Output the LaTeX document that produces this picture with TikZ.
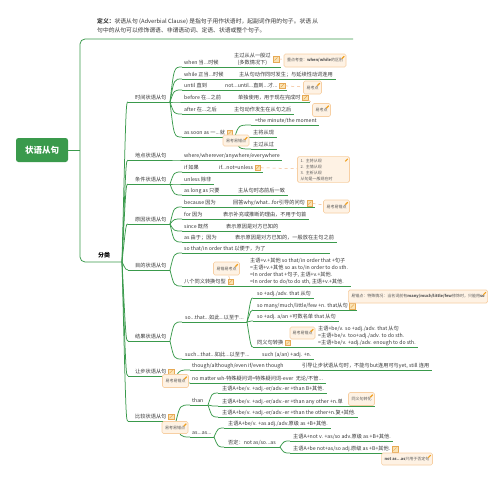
\documentclass[tikz,border=0pt]{standalone}
\usepackage{fontspec}
\setmainfont{Noto Sans CJK SC}
\usetikzlibrary{calc}
\definecolor{gr}{HTML}{3A9A4C}
\definecolor{txtc}{HTML}{383838}
\definecolor{boxf}{HTML}{FEF2E4}
\definecolor{boxb}{HTML}{F7CFA3}
\definecolor{boxt}{HTML}{5A5A5A}
\definecolor{icf}{HTML}{FBE3B4}
\definecolor{icb}{HTML}{E6A955}
\definecolor{penc}{HTML}{F0A020}
\definecolor{dsc}{HTML}{F2B888}
% text node with adaptive underline: name, xL, yu, textx, text
\newcommand\mmnd[5]{%
  \node[txt] (#1) at (#4,#3-2.3) {#5};
  \coordinate (#1-l) at (#2,#3);
  \coordinate (#1-e) at ($(#1.east)+(2.5,0)$);
  \coordinate (#1-r) at (#1-e |- #1-l);
  \draw[conn] (#1-l) -- (#1-r);}
% fixed underline: name, xL, xR, yu, textx, text
\newcommand\mmndx[6]{%
  \node[txt] (#1) at (#5,#4-2.3) {#6};
  \coordinate (#1-l) at (#2,#4);
  \coordinate (#1-r) at (#3,#4);
  \draw[conn] (#1-l) -- (#1-r);}
% with note icon
\newcommand\mmndi[5]{%
  \node[txt] (#1) at (#4,#3-2.3) {#5};
  \node[icn] (#1-i) at ($(#1.east)+(4.5,0)$) {};
  \coordinate (#1-l) at (#2,#3);
  \coordinate (#1-e) at ($(#1-i.east)+(2,0)$);
  \coordinate (#1-r) at (#1-e |- #1-l);
  \draw[conn] (#1-l) -- (#1-r);}
\newcommand\mmcv[2]{\draw[conn] let \p1=(#1), \p2=(#2) in (\p1) .. controls (\x1+4pt,\y2) .. (\p2);}
\newcommand\mmpen[1]{\draw[penc, line width=1.1pt] ($(#1.north east)+(-4.5,5)$) -- ($(#1.north east)+(-2,2.5)$);}
\begin{document}
\begin{tikzpicture}[x=1pt,y=-1pt,
  conn/.style={draw=gr, line width=0.75pt},
  txt/.style={anchor=base west, inner sep=0pt, text=txtc, font=\fontsize{5.2}{7}\selectfont},
  mtxt/.style={anchor=south west, inner sep=0pt, text=txtc, font=\fontsize{5.2}{7}\selectfont, align=left},
  callout/.style={draw=boxb, fill=boxf, rounded corners=1.5pt, line width=0.6pt, inner xsep=3pt, inner ysep=2pt, minimum height=12pt, text=boxt, font=\fontsize{4}{5.5}\selectfont},
  icn/.style={draw=icb, fill=icf, line width=0.4pt, minimum width=5.5pt, minimum height=5.5pt, inner sep=0pt,
    path picture={\draw[icb, line width=0.5pt] ([shift={(1.2pt,1.2pt)}]path picture bounding box.south west) -- ([shift={(-1.2pt,-1.2pt)}]path picture bounding box.north east);}},
  dline/.style={draw=dsc, dashed, line width=0.5pt}]
\useasboundingbox[fill=white] (0,0) rectangle (503,480);

% definition
\node[anchor=north west, inner sep=0pt, font=\fontsize{5.8}{9}\selectfont, text=txtc, align=left] (def) at (97,18.3)
  {\textbf{定义：}状语从句 (Adverbial Clause) 是指句子用作状语时，起副词作用的句子。状语 从\\句中的从句可以修饰谓语、非谓语动词、定语、状语或整个句子。};
\coordinate (def-r) at (353,39);

% root
\node[fill=gr, rounded corners=2.5pt, text=white, font=\fontsize{8.5}{10}\selectfont\bfseries, minimum width=52pt, minimum height=24pt, inner sep=0pt] (root) at (42,150) {状语从句};

% 分类
\node[anchor=base west, inner sep=0pt, font=\fontsize{6}{7}\selectfont\bfseries, text=black] (fl) at (98,257.7) {分类};
\coordinate (fl-r) at (122,262);
\coordinate (tTop) at (80,39);
\coordinate (tBot) at (80,262);
\draw[conn, rounded corners=5pt] (def-r) -- (tTop) -- (tBot) -- (fl-r);
\draw[conn] (root.east) -- (root.east -| tTop);

% categories
\mmndx{c1}{128}{170}{102}{135}{时间状语从句}
\mmndx{c2}{128}{170}{160}{135}{地点状语从句}
\mmndx{c3}{128}{170}{184}{135}{条件状语从句}
\mmndx{c4}{128}{170}{224}{135}{原因状语从句}
\mmndx{c5}{128}{170}{270}{135}{目的状语从句}
\mmndx{c6}{128}{170}{341}{135}{结果状语从句}
\mmndi{c7}{128}{376}{135}{让步状语从句}
\mmndi{c8}{128}{421}{135}{比较状语从句}
\foreach \c in {c1,c2,c3,c4,c5,c6,c7,c8}{\mmcv{fl-r}{\c-l}}

% time
\mmndx{t1}{182}{228}{67}{184}{when 当...时候}
\node[mtxt, align=center] (g1) at (234,65.6) {主过从从一般过\\(多数情况下)};
\node[icn] (g1-i) at (276,59) {};
\coordinate (g1-l) at (232,67);
\coordinate (g1-r) at (281,67);
\draw[conn] (g1-l) -- (g1-r);
\draw[conn] (t1-r) -- (g1-l);
\mmndx{t2}{182}{232}{79}{184}{while 正当...时候}
\mmnd{g2}{236}{79}{239}{主从句动作同时发生；与延续性动词连用}
\draw[conn] (t2-r) -- (g2-l);
\mmndx{t3}{182}{219}{90}{184}{until 直到}
\mmndi{g3}{223}{90}{225}{not...until...直到...才...}
\draw[conn] (t3-r) -- (g3-l);
\mmndx{t4}{182}{232}{102}{184}{before 在...之前}
\mmndi{g4}{236}{102}{238}{单独使用，用于现在完成时}
\draw[conn] (t4-r) -- (g4-l);
\mmndx{t5}{182}{228}{114}{184}{after 在...之后}
\mmnd{g5}{232}{114}{234}{主句动作发生在从句之后}
\draw[conn] (t5-r) -- (g5-l);
\mmndi{t6}{182}{137}{184}{as soon as 一...就}
\mmnd{g6a}{251}{125}{255}{=the minute/the moment}
\mmnd{g6b}{251}{137}{253}{主将从现}
\mmnd{g6c}{251}{149}{253}{主过从过}
\foreach \c in {t1,t2,t3,t4,t5,t6}{\mmcv{c1-r}{\c-l}}
\foreach \c in {g6a,g6b,g6c}{\mmcv{t6-r}{\c-l}}

% location
\mmnd{l1}{182}{160}{184}{where/wherever/anywhere/everywhere}
\mmcv{c2-r}{l1-l}

% condition
\mmndx{k1}{182}{211}{172}{184}{if 如果}
\mmndi{gk1}{215}{172}{219}{if...not=unless}
\draw[conn] (k1-r) -- (gk1-l);
\mmnd{k2}{182}{184}{184}{unless 除非}
\mmndx{k3}{182}{228}{195}{184}{as long as 只要}
\mmnd{gk3}{232}{195}{238}{主从句时态前后一致}
\draw[conn] (k3-r) -- (gk3-l);
\foreach \c in {k1,k2,k3}{\mmcv{c3-r}{\c-l}}

% reason
\mmndx{r1}{182}{224}{207}{184}{because 因为}
\mmndi{gr1}{228}{207}{233}{回答why/what...for引导的问句}
\draw[conn] (r1-r) -- (gr1-l);
\mmndx{r2}{182}{214}{219}{184}{for 因为}
\mmnd{gr2}{218}{219}{223}{表示补充或推断的理由，不用于句首}
\draw[conn] (r2-r) -- (gr2-l);
\mmndx{r3}{182}{218}{231}{184}{since 既然}
\mmnd{gr3}{222}{231}{226}{表示原因是对方已知的}
\draw[conn] (r3-r) -- (gr3-l);
\mmndx{r4}{182}{226}{242}{184}{as 由于；因为}
\mmnd{gr4}{230}{242}{235}{表示原因是对方已知的，一般放在主句之前}
\draw[conn] (r4-r) -- (gr4-l);
\foreach \c in {r1,r2,r3,r4}{\mmcv{c4-r}{\c-l}}

% purpose
\mmndx{p1}{182}{330}{253}{184}{so that/in order that 以便于，为了}
\mmndi{p2}{182}{286}{184}{八个同义转换句型}
\node[mtxt] (g52) at (250,284.6) {主语+v.+其他 so that/in order that +句子\\=主语+v.+其他 so as to/in order to do sth.\\=In order that +句子, 主语+v.+其他.\\=In order to do/to do sth, 主语+v.+其他.};
\coordinate (g52-l) at (246,286);
\coordinate (g52-e) at ($(g52.south east)+(2.5,0)$);
\coordinate (g52-r) at (g52-e |- g52-l);
\draw[conn] (g52-l) -- (g52-r);
\draw[conn] (p2-r) -- (g52-l);
\foreach \c in {p1,p2}{\mmcv{c5-r}{\c-l}}

% result
\mmndx{s1}{182}{247}{322}{185}{so...that...如此...以至于...}
\mmnd{s1a}{253}{298}{257}{so +adj./adv. that 从句}
\mmndi{s1b}{253}{310}{257}{so many/much/little/few +n. that从句}
\mmnd{s1c}{253}{321}{257}{so +adj. a/an +可数名单 that 从句}
\mmndi{s1d}{253}{347}{257}{同义句转换}
\node[mtxt] (g6d) at (318,345.6) {主语+be/v. so +adj./adv. that 从句\\=主语+be/v. too+adj./adv. to do sth.\\=主语+be/v. +adj./adv. enough to do sth.};
\coordinate (g6d-l) at (296,347);
\coordinate (g6d-e) at ($(g6d.south east)+(2.5,0)$);
\coordinate (g6d-r) at (g6d-e |- g6d-l);
\draw[conn] (g6d-l) -- (g6d-r);
\draw[conn] (s1d-r) -- (g6d-l);
\foreach \c in {s1a,s1b,s1c,s1d}{\mmcv{s1-r}{\c-l}}
\mmndx{s2}{182}{252}{359}{185}{such...that...如此...以至于...}
\mmnd{gs2}{256}{359}{262}{such (a/an) +adj. +n.}
\draw[conn] (s2-r) -- (gs2-l);
\foreach \c in {s1,s2}{\mmcv{c6-r}{\c-l}}

% concession
\mmndx{v1}{190}{292}{370}{192}{though/although/even if/even though}
\mmnd{gv1}{296}{370}{302}{引导让步状语从句时，不能与but连用可与yet, still 连用}
\draw[conn] (v1-r) -- (gv1-l);
\mmnd{v2}{190}{383}{192}{no matter wh-特殊疑问词=特殊疑问词-ever\ \ 无论/不管...}
\foreach \c in {v1,v2}{\mmcv{c7-r}{\c-l}}

% comparison
\mmndx{w1}{190}{208}{405}{192}{than}
\mmnd{w1a}{218}{393}{222}{主语A+be/v. +adj.-er/adv.-er +than B+其他.}
\mmndx{w1b}{218}{375}{406}{222}{主语A+be/v. +adj.-er/adv.-er +than any other +n.单}
\mmnd{w1c}{218}{417}{222}{主语A+be/v. +adj.-er/adv.-er +than the other+n.复+其他.}
\foreach \c in {w1a,w1b,w1c}{\mmcv{w1-r}{\c-l}}
\mmndx{w2}{190}{214}{437}{192}{as...as...}
\mmnd{w2a}{224}{428}{228}{主语A+be/v. +as adj./adv.原级 as +B+其他.}
\mmndx{w2b}{224}{280}{447}{228}{否定：not as/so...as}
\mmnd{w2b1}{290}{441}{293}{主语A+not v. +as/so adv.原级 as +B+其他.}
\mmndi{w2b2}{290}{453}{293}{主语A+be not+as/so adj.原级 as +B+其他.}
\foreach \c in {w2a,w2b}{\mmcv{w2-r}{\c-l}}
\foreach \c in {w2b1,w2b2}{\mmcv{w2b-r}{\c-l}}
\foreach \c in {w1,w2}{\mmcv{c8-r}{\c-l}}

% callouts
\node[callout, minimum height=13pt] (b1) at (315,60.5) {重点考查：\textbf{when/while}的区别}; \mmpen{b1}
\node[callout, minimum height=13pt] (b2) at (312.5,87.5) {易考点}; \mmpen{b2}
\node[callout, minimum height=13pt] (b3) at (321.5,110) {易考点}; \mmpen{b3}
\node[callout, minimum height=11pt] (b4) at (236,140.5) {易考易错点}; \mmpen{b4}
\node[callout, align=left, text width=46pt, font=\fontsize{4}{6}\selectfont] (b5) at (323.5,169.5) {1.\enspace 主将从现\\2.\enspace 主情从现\\3.\enspace 主祈从现\\从句是一般现在时}; \mmpen{b5}
\node[callout, minimum height=13pt] (b6) at (336.5,206.5) {易考易错点}; \mmpen{b6}
\node[callout, minimum height=13pt] (b7) at (226.5,268.5) {易错易考点}; \mmpen{b7}
\node[callout, minimum height=13pt] (b8) at (418,296.5) {易错点：特殊情况：当名词前有\textbf{many/much/little/few}修饰时，只能用\textbf{so}}; \mmpen{b8}
\node[callout, minimum height=12pt, inner xsep=2.5pt] (b9) at (302.5,333) {易考易错点}; \mmpen{b9}
\node[callout, minimum height=13pt] (b10) at (175.5,381) {易考易错点}; \mmpen{b10}
\node[callout, minimum height=12pt] (b11) at (175,427.5) {易考易错点}; \mmpen{b11}
\node[callout, minimum height=13pt] (b12) at (361.5,399) {同义句转化}; \mmpen{b12}
\node[callout, minimum height=12pt] (b13) at (407,459) {\textbf{not as...as}只用于否定句}; \mmpen{b13}

% dashed links
\draw[dline] (g1-i) -- (b1);
\draw[dline] (g3-i) -- (b2);
\draw[dline] (g4-i) -- (b3);
\draw[dline] (gk1-i) -- (b5);
\draw[dline] (gr1-i) -- (b6);
\draw[dline] (p2-i) -- (b7);
\end{tikzpicture}
\end{document}
